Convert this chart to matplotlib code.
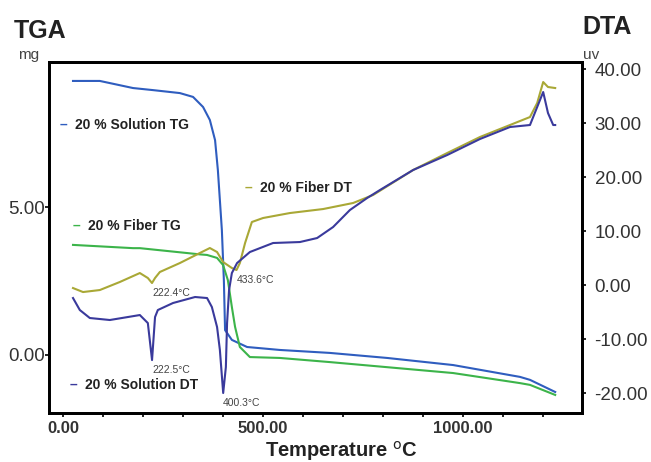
import matplotlib
matplotlib.use("Agg")
import matplotlib.pyplot as plt
from matplotlib.ticker import MultipleLocator, FixedLocator

plt.rcParams["font.family"] = ["Liberation Sans", "DejaVu Sans"]

# ── Data (temperature in °C) ────────────────────────────────────────────────
# TG curves, mg (left axis)
sol_tg_t = [25, 92, 175, 225, 292, 325, 350, 367, 380, 387, 392, 397, 402, 405,
            422, 460, 542, 667, 810, 975, 1142, 1167, 1230]
sol_tg_m = [9.26, 9.26, 9.02, 8.95, 8.85, 8.72, 8.38, 7.94, 7.26, 6.25, 5.24, 4.22,
            2.53, 0.84, 0.51, 0.27, 0.17, 0.07, -0.10, -0.34, -0.74, -0.84, -1.25]

fib_tg_t = [25, 175, 192, 342, 360, 385, 400, 412, 422, 430, 442, 467, 542, 667,
            975, 1142, 1167, 1230]
fib_tg_m = [3.72, 3.61, 3.61, 3.40, 3.38, 3.28, 3.04, 2.53, 1.62, 0.95, 0.27, -0.07,
            -0.10, -0.24, -0.61, -0.95, -1.01, -1.35]

# DTA curves, uV (right axis)
fib_dt_t = [25, 50, 92, 142, 192, 212, 222.4, 230, 242, 292, 342, 367, 385, 400,
            422, 433.6, 442, 455, 472, 500, 567, 650, 725, 775, 875, 960, 1042,
            1117, 1167, 1185, 1200, 1212, 1230]
fib_dt_v = [-0.56, -1.30, -0.93, 0.56, 2.22, 1.30, 0.37, 1.30, 2.41, 4.07, 5.93,
            6.85, 6.11, 4.26, 3.15, 2.78, 4.07, 7.78, 11.67, 12.41, 13.33, 14.07,
            15.19, 16.67, 21.30, 24.44, 27.41, 29.63, 31.11, 33.70, 37.59, 36.67,
            36.48]

sol_dt_t = [25, 42, 67, 117, 192, 212, 222.5, 230, 237, 275, 330, 360, 372, 385,
            392, 400.3, 407, 410, 415, 422, 435, 467, 525, 592, 635, 675, 717,
            760, 792, 875, 960, 1042, 1117, 1167, 1200, 1212, 1225, 1230]
sol_dt_v = [-2.41, -4.63, -6.11, -6.48, -5.56, -7.04, -13.9, -5.93, -4.63, -3.33,
            -2.22, -2.41, -4.07, -7.78, -12.0, -20.0, -15.2, -7.04, -0.93, 2.22,
            4.07, 6.11, 7.78, 7.96, 8.70, 10.74, 13.89, 16.11, 17.59, 21.30, 24.07,
            27.04, 29.26, 29.63, 35.74, 31.85, 29.63, 29.63]

# peak labels: (temperature, value, text)
fib_peaks = [(222.4, 0.37, "222.4°C"), (433.6, 2.78, "433.6°C")]
sol_peaks = [(222.5, -13.9, "222.5°C"), (400.3, -20.0, "400.3°C")]

# ── Colours ────────────────────────────────────────────────────────────────
SOL_TG = "#2f5dbf"
FIB_TG = "#3cb44a"
FIB_DT = "#a9a836"
SOL_DT = "#3a3a9c"
TEXT = "#222222"
TICK = "#333333"

W, H = 651, 462


def fx(x):
    return x / W


def fy(y):
    return 1 - y / H


fig = plt.figure(figsize=(W / 100, H / 100), dpi=100, facecolor="white")
ax = fig.add_axes([fx(49), fy(413), fx(582 - 49), (413 - 62) / H])
ax2 = ax.twinx()

ax.plot(sol_tg_t, sol_tg_m, color=SOL_TG, lw=1.5, zorder=3)
ax.plot(fib_tg_t, fib_tg_m, color=FIB_TG, lw=1.5, zorder=3)
ax2.plot(fib_dt_t, fib_dt_v, color=FIB_DT, lw=1.5, zorder=3)
ax2.plot(sol_dt_t, sol_dt_v, color=SOL_DT, lw=1.5, zorder=3)

for t, v, s in fib_peaks + sol_peaks:
    ax2.annotate(s, xy=(t, v), xytext=(0, -10), textcoords="offset pixels",
                 ha="left", va="center", fontsize=7.5, color="#444444")

ax.set_xlim(-35, 1297)
ax.set_ylim(-1.96, 9.9)
ax2.set_ylim(-23.7, 41.3)

# x axis
ax.xaxis.set_major_locator(FixedLocator([0, 500, 1000]))
ax.xaxis.set_minor_locator(MultipleLocator(100))
ax.set_xticklabels(["0.00", "500.00", "1000.00"], fontweight="bold",
                   fontsize=12, color=TICK)
ax.tick_params(axis="x", which="both", direction="out", length=3, width=1.2,
               pad=3)

# left axis
ax.yaxis.set_major_locator(FixedLocator([0, 5]))
ax.set_yticklabels(["0.00", "5.00"], fontsize=13.5, color=TICK)
ax.tick_params(axis="y", direction="out", length=3, width=1.2, pad=0)

# right axis
ax2.set_yticks([-20, -10, 0, 10, 20, 30, 40])
ax2.set_yticklabels([f"{v:.2f}" for v in ax2.get_yticks()], fontsize=13.5,
                    color=TICK)
ax2.tick_params(axis="y", direction="out", length=3, width=1.2, pad=6)

for a in (ax, ax2):
    for sp in a.spines.values():
        sp.set_linewidth(2)
        sp.set_color("black")

# axis titles
fig.text(fx(14), fy(31), "TGA", fontsize=18, fontweight="bold", color=TEXT,
         ha="left", va="center")
fig.text(fx(18), fy(55), "mg", fontsize=11, color="#444444", ha="left",
         va="center")
fig.text(fx(582), fy(27), "DTA", fontsize=18, fontweight="bold", color=TEXT,
         ha="left", va="center")
fig.text(fx(583), fy(55), "uv", fontsize=11, color="#444444", ha="left",
         va="center")
fig.text(fx(341), fy(451), r"Temperature $^{\mathrm{o}}$C", fontsize=14.5,
         fontweight="bold", color=TEXT, ha="center", va="center")

# inline series labels
labels = [
    (60, 125, SOL_TG, "20 % Solution TG"),
    (245, 188, FIB_DT, "20 % Fiber DT"),
    (73, 226, FIB_TG, "20 % Fiber TG"),
    (70, 385, SOL_DT, "20 % Solution DT"),
]
for x, y, c, s in labels:
    fig.text(fx(x), fy(y), "–", fontsize=10, fontweight="bold", color=c,
             ha="left", va="center")
    fig.text(fx(x + 15), fy(y), s, fontsize=10, fontweight="bold", color=TEXT,
             ha="left", va="center")

fig.savefig("out.png", dpi=100, facecolor="white")
